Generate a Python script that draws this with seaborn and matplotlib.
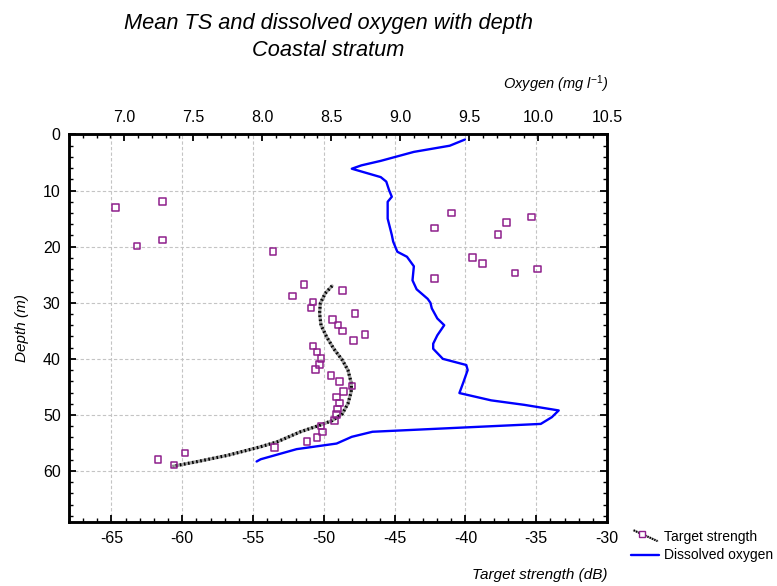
import matplotlib
matplotlib.use("Agg")
import matplotlib.pyplot as plt
import pandas as pd
import seaborn as sns
from matplotlib.lines import Line2D
from matplotlib.legend_handler import HandlerBase
from matplotlib.ticker import MultipleLocator, FormatStrFormatter

# Mean target strength per depth bin
ts_depth = [11.9, 13.0, 14.0, 14.7, 15.7, 16.7, 17.8, 18.8, 19.9, 20.9,
            21.9, 23.0, 24.0, 24.7, 25.7, 26.7, 27.8, 28.8, 29.9, 30.9,
            31.9, 33.0, 34.0, 35.0, 35.7, 36.7, 37.7, 38.8, 39.9, 41.0,
            41.9, 43.0, 44.0, 44.8, 45.8, 46.8, 47.9, 48.9, 49.9, 51.0,
            52.0, 53.0, 54.0, 54.7, 55.8, 56.8, 57.9, 58.9]
ts_value = [-61.4, -64.7, -41.0, -35.35, -37.1, -42.2, -37.7, -61.4, -63.2, -53.6,
            -39.5, -38.8, -34.9, -36.5, -42.2, -51.4, -48.7, -52.2, -50.75, -50.9,
            -47.8, -49.4, -49.0, -48.7, -47.1, -47.9, -50.75, -50.5, -50.2, -50.3,
            -50.6, -49.5, -48.9, -48.0, -48.6, -49.1, -48.9, -49.05, -49.1, -49.25,
            -50.2, -50.1, -50.5, -51.2, -53.5, -59.8, -61.7, -60.6]

# Smoothed TS profile
fit_depth = [27.0, 28.3, 30.1, 31.9, 34.0, 36.1, 38.2, 40.2, 42.0, 44.4,
             45.9, 48.0, 49.8, 51.0, 51.8, 53.0, 54.8, 55.7, 57.2, 58.3, 59.15]
fit_ts = [-49.42, -49.9, -50.25, -50.3, -50.2, -49.8, -49.3, -48.7, -48.3, -48.05,
          -48.07, -48.3, -48.7, -49.4, -50.25, -51.65, -53.3, -54.5, -56.8, -58.9, -60.65]

# Dissolved oxygen profile (mg/l)
oxy_depth = [0.9, 2.0, 3.1, 4.7, 5.5, 6.1, 6.6, 7.6, 8.4, 9.9,
             11.1, 12.0, 15.0, 17.9, 19.1, 20.9, 21.8, 23.5, 26.0, 27.6,
             29.3, 30.0, 31.0, 32.8, 34.0, 35.8, 37.3, 38.2, 40.0, 41.1,
             42.0, 44.1, 46.1, 47.4, 48.2, 49.2, 50.4, 51.6, 53.0,
             53.9, 55.1, 56.1, 57.9, 58.3]
oxy_value = [9.47, 9.36, 9.10, 8.86, 8.72, 8.65, 8.72, 8.86, 8.90, 8.92,
             8.94, 8.91, 8.91, 8.94, 8.95, 8.98, 9.05, 9.10, 9.09, 9.12,
             9.20, 9.22, 9.23, 9.27, 9.32, 9.27, 9.24, 9.24, 9.31, 9.48,
             9.49, 9.46, 9.43, 9.66, 9.90, 10.15, 10.10, 10.02, 8.80,
             8.65, 8.54, 8.25, 7.99, 7.96]

PURPLE = "#8E1F8C"
BLUE = "#0000FF"

sns.set_style("white")
plt.rcParams["font.family"] = ["Liberation Sans", "DejaVu Sans"]
plt.rcParams["mathtext.fontset"] = "custom"
plt.rcParams["mathtext.rm"] = "Liberation Sans"
plt.rcParams["mathtext.it"] = "Liberation Sans:italic"
plt.rcParams["axes.unicode_minus"] = False
for key in ("text.color", "axes.labelcolor", "xtick.color", "ytick.color"):
    plt.rcParams[key] = "black"

W, H = 777, 586
fig = plt.figure(figsize=(W / 100, H / 100), dpi=100)
left, right, top, bottom = 69, 607, 134.5, 521.5
ax = fig.add_axes([left / W, 1 - bottom / H, (right - left) / W, (bottom - top) / H])
ax2 = ax.twiny()

ts_df = pd.DataFrame({"ts": ts_value, "depth": ts_depth})
fit_df = pd.DataFrame({"ts": fit_ts, "depth": fit_depth})
oxy_df = pd.DataFrame({"oxygen": oxy_value, "depth": oxy_depth})

# Smoothed TS profile: grey core with black dots on top
sns.lineplot(data=fit_df, x="ts", y="depth", sort=False, estimator=None, ax=ax,
             color="#a0a0a0", lw=2.3, zorder=2)
sns.lineplot(data=fit_df, x="ts", y="depth", sort=False, estimator=None, ax=ax,
             color="black", lw=2.3, linestyle=(0, (0.5, 0.8)), zorder=2.1)

# TS observations as open squares
sns.scatterplot(data=ts_df, x="ts", y="depth", ax=ax, marker="s", s=22,
                color=PURPLE, linewidth=1.1, zorder=3)
pts = ax.collections[-1]
pts.set_facecolor("none")
pts.set_edgecolor(PURPLE)

# Oxygen on the top axis
sns.lineplot(data=oxy_df, x="oxygen", y="depth", sort=False, estimator=None, ax=ax2,
             color=BLUE, lw=1.7, zorder=4)

ax.set_xlim(-68, -30)
ax2.set_xlim(6.6, 10.5)
ax.set_ylim(69, 0)
for a in (ax, ax2):
    a.set_xlabel("")
    a.set_ylabel("")

ax.xaxis.set_major_locator(MultipleLocator(5))
ax.xaxis.set_minor_locator(MultipleLocator(1))
ax.yaxis.set_major_locator(MultipleLocator(10))
ax.yaxis.set_minor_locator(MultipleLocator(2))
ax2.xaxis.set_major_locator(MultipleLocator(0.5))
ax2.xaxis.set_minor_locator(MultipleLocator(0.1))
ax2.xaxis.set_major_formatter(FormatStrFormatter("%.1f"))

ax.grid(True, which="major", color="#c4c4c4", linestyle=(0, (3, 2)), linewidth=0.8)
ax2.grid(False)
ax.set_axisbelow(True)

ax.tick_params(which="both", direction="in", top=False, right=True, left=True, bottom=True,
               labelright=False, colors="black", labelsize=11.5)
ax.tick_params(which="major", length=5, width=1.3)
ax.tick_params(which="minor", length=3, width=1.0)
ax.tick_params(axis="x", pad=7)
ax.tick_params(axis="y", pad=6)
ax2.tick_params(which="both", direction="in", top=True, bottom=False,
                labeltop=True, labelbottom=False, labelsize=11.5, pad=7, colors="black")
ax2.tick_params(which="major", length=5, width=1.3)
ax2.tick_params(which="minor", length=3, width=1.0)

for a in (ax, ax2):
    for sp in a.spines.values():
        sp.set_linewidth(1.8)
        sp.set_color("black")

# Titles and axis captions
fig.text(328 / W, 1 - 24 / H, "Mean TS and dissolved oxygen with depth",
         ha="center", va="center", fontsize=15.7, style="italic")
fig.text(328 / W, 1 - 50 / H, "Coastal stratum",
         ha="center", va="center", fontsize=15.7, style="italic")
fig.text(608 / W, 1 - 84 / H, r"Oxygen (mg l$^{-1}$)",
         ha="right", va="center", fontsize=10.5, style="italic")
fig.text(607 / W, 1 - 575 / H, "Target strength (dB)",
         ha="right", va="center", fontsize=11, style="italic")
fig.text(22 / W, 1 - 328 / H, "Depth (m)", rotation=90,
         ha="center", va="center", fontsize=11, style="italic")


class SlantedHandler(HandlerBase):
    """Legend key drawn as a slanted dotted line with an open square."""

    def create_artists(self, legend, orig_handle, xdescent, ydescent,
                       width, height, fontsize, trans):
        x0, x1 = -xdescent + 0.1 * width, -xdescent + 0.95 * width
        y0, y1 = -ydescent + 1.05 * height, -ydescent - 0.05 * height
        core = Line2D([x0, x1], [y0, y1], color="#a0a0a0", lw=1.5)
        dots = Line2D([x0, x1], [y0, y1], color="black", lw=1.5,
                      linestyle=(0, (0.6, 0.6)))
        mx = x0 + 0.35 * (x1 - x0)
        my = y0 + 0.35 * (y1 - y0)
        mk = Line2D([mx], [my], ls="none", marker="s", ms=4.4,
                    mfc="white", mec=PURPLE, mew=1.0)
        for art in (core, dots, mk):
            art.set_transform(trans)
        return [core, dots, mk]


ts_key = Line2D([], [], color="black")
oxy_key = Line2D([], [], color=BLUE, lw=1.7)
fig.legend([ts_key, oxy_key], ["Target strength", "Dissolved oxygen"],
           loc="center left", bbox_to_anchor=(631 / W, 1 - 546 / H),
           frameon=False, fontsize=10, handlelength=2.0, handletextpad=0.4,
           labelspacing=0.35, borderpad=0, borderaxespad=0,
           handler_map={ts_key: SlantedHandler()})

fig.savefig("out.png", dpi=100)
